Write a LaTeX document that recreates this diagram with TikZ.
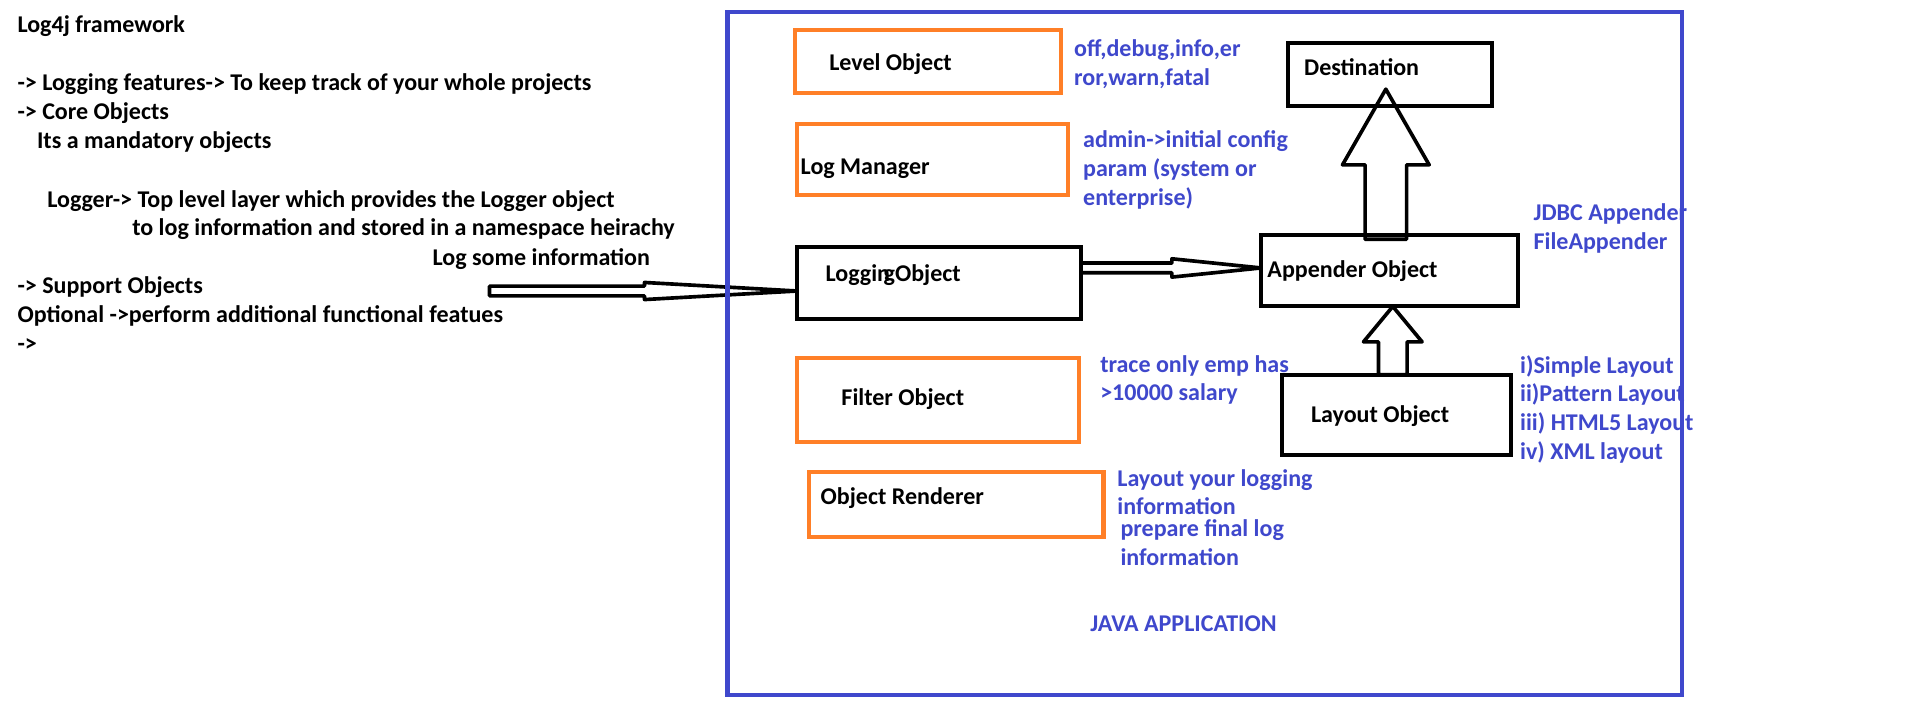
\documentclass[tikz,border=0pt]{standalone}
\usepackage{fontspec}
\setmainfont{Carlito}
\usetikzlibrary{calc}
\definecolor{appblue}{HTML}{3F48CC}
\definecolor{boxorange}{HTML}{FF7F27}

\begin{document}
\begin{tikzpicture}[x=0.2mm, y=-0.2mm,
	txt/.style={anchor=base west, inner sep=0pt, font=\fontsize{11.2}{13.4}\selectfont\bfseries},
	note/.style={txt, text=appblue, align=left},
	obox/.style={draw=boxorange, line width=1.9pt, inner sep=0pt, outer sep=0pt},
	kbox/.style={draw=black, line width=1.9pt, inner sep=0pt, outer sep=0pt},
	hollow/.style={draw=black, line width=1.7pt, line join=round}]
	\fill[white] (0,0) rectangle (1568,578);
	\useasboundingbox (0,0) rectangle (1568,578);

	\node [txt] (title) at (14,27) {Log4j framework};
	\node [txt] (feat) at (14,74.3) {-> Logging features-> To keep track of your whole projects};
	\node [txt] (core) at (14,98) {-> Core Objects};
	\node [txt] (mand) at (30,122) {Its a mandatory objects};
	\node [txt] (logger) at (38.4,169.8) {Logger-> Top level layer which provides the Logger object};
	\node [txt] (logger2) at (108,193) {to log information and stored in a namespace heirachy};
	\node [txt] (logsome) at (354,217.3) {Log some information};
	\node [txt] (support) at (14,240.8) {-> Support Objects};
	\node [txt] (optional) at (14,264.3) {Optional ->perform additional functional featues};
	\node [txt] (dots) at (14,288.3) {->};

	\node [obox, minimum width=43.5mm, minimum height=10.3mm] (level) at (760.3,50.3) {};
	\node [txt] (levelT) at (679,57.8) {Level Object};
	\node [obox, minimum width=44.4mm, minimum height=11.7mm] (logmgr) at (764,130.8) {};
	\node [txt] (logmgrT) at (655.6,143.3) {Log Manager};
	\node [kbox, minimum width=46.5mm, minimum height=11.8mm] (logobj) at (769.3,231.5) {};
	\node [txt] (logobjT) at (676,230.4) {Loggin\kern-3pt gObject};
	\node [obox, minimum width=46.2mm, minimum height=13.7mm] (filter) at (768.5,327.8) {};
	\node [txt] (filterT) at (689,331.8) {Filter Object};
	\node [obox, minimum width=48.2mm, minimum height=10.7mm] (render) at (783.5,413.3) {};
	\node [txt] (renderT) at (672,413.3) {Object Renderer};

	\node [kbox, minimum width=33.4mm, minimum height=10.3mm] (dest) at (1138.5,61.3) {};
	\node [txt] (destT) at (1068,61.9) {Destination};
	\node [kbox, minimum width=42.1mm, minimum height=11.7mm] (append) at (1138.3,221.8) {};
	\node [txt] (appendT) at (1038,227.3) {Appender Object};
	\node [kbox, minimum width=37.5mm, minimum height=13.1mm] (layout) at (1143.8,339.8) {};
	\node [txt] (layoutT) at (1073.7,346.3) {Layout Object};

	\node [note] (levels) at (879.6,70.1) {off,debug,info,er\\ror,warn,fatal};
	\node [note] (admin) at (887,168.3) {admin->initial config\\param (system or\\enterprise)};
	\node [note] (jdbc) at (1256,204.3) {JDBC Appender\\FileAppender};
	\node [note] (trace) at (901,328.3) {trace only emp has\\>10000 salary};
	\node [note] (layouts) at (1245,376.3) {i)Simple Layout\\ii)Pattern Layout\\iii) HTML5 Layout\\iv) XML layout};
	\node [note] (layoutyour) at (915,421.8) {Layout your logging\\information};
	\node [note] (prepare) at (917.6,462.9) {prepare final log\\information};
	\node [note] (javaT) at (893,517.3) {JAVA APPLICATION};

	\coordinate (logIn) at (401,238.4);
	\draw [hollow] ($(logIn)+(0,-4)$) -- ($(logIn)+(127,-4)$) -- ($(logIn)+(127,-7)$) -- (logobj.west |- logIn)
		-- ($(logIn)+(127,7)$) -- ($(logIn)+(127,4)$) -- ($(logIn)+(0,4)$) -- cycle;
	\coordinate (a2) at ($(logobj.east)+(0,-12)$);
	\draw [hollow] ($(a2)+(0,-4)$) -- ($(a2)+(74.5,-4)$) -- ($(a2)+(74.5,-7.5)$) -- (append.west |- a2)
		-- ($(a2)+(74.5,7.5)$) -- ($(a2)+(74.5,4)$) -- ($(a2)+(0,4)$) -- cycle;
	\coordinate (a3) at ($(append.north)+(-3,3.5)$);
	\draw [hollow] ($(a3)+(-17,0)$) -- ($(a3)+(-17,-61)$) -- ($(a3)+(-35.5,-61)$) -- ($(a3 |- dest.south)+(0,-14)$)
		-- ($(a3)+(35.5,-61)$) -- ($(a3)+(17,-61)$) -- ($(a3)+(17,0)$) -- cycle;
	\coordinate (a4) at ($(layout.north)+(-2.8,0)$);
	\draw [hollow] ($(a4)+(-11.7,0)$) -- ($(a4)+(-11.7,-27)$) -- ($(a4)+(-24,-27)$) -- (a4 |- append.south)
		-- ($(a4)+(24,-27)$) -- ($(a4)+(11.7,-27)$) -- ($(a4)+(11.7,0)$) -- cycle;

	\node [draw=appblue, line width=1.9pt, inner sep=0pt, minimum width=156.4mm, minimum height=111.8mm] (javaapp) at (987,289.5) {};
\end{tikzpicture}
\end{document}
